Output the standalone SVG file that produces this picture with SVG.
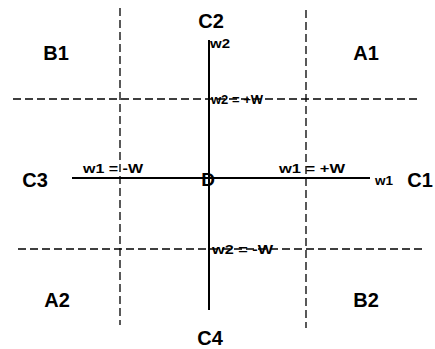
<svg xmlns="http://www.w3.org/2000/svg" width="435" height="349" viewBox="0 0 435 349">
<style>
.big{font-family:"Liberation Sans",Arial,sans-serif;font-weight:bold;font-size:20px;fill:#000;text-anchor:middle}
.sm{font-family:"Liberation Sans",Arial,sans-serif;font-weight:bold;font-size:13px;fill:#000}
.dash{stroke:#000;stroke-width:1.3;stroke-dasharray:8 4;fill:none}
.axis{stroke:#000;stroke-width:2;fill:none}
</style>
<rect width="435" height="349" fill="#fff"/>
<g id="connectors">
<line class="dash" x1="120" y1="8" x2="120" y2="325"/>
<line class="dash" x1="306" y1="10" x2="306" y2="328"/>
<line class="dash" x1="13" y1="99" x2="418" y2="99"/>
<line class="dash" x1="18" y1="249" x2="423" y2="249"/>
<line class="axis" x1="209" y1="40" x2="209" y2="310"/>
<line class="axis" x1="72" y1="178" x2="370" y2="178"/>
</g>
<g id="C2"><text class="big" x="211" y="28">C2</text></g>
<g id="B1"><text class="big" x="56" y="60">B1</text></g>
<g id="A1"><text class="big" x="366" y="60">A1</text></g>
<g id="C3"><text class="big" x="35" y="187">C3</text></g>
<g id="C1"><text class="big" x="420" y="187">C1</text></g>
<g id="A2"><text class="big" x="57" y="307">A2</text></g>
<g id="B2"><text class="big" x="366" y="307">B2</text></g>
<g id="C4"><text class="big" x="210" y="345">C4</text></g>
<g id="D"><text class="big" x="208" y="186" style="font-size:19px">D</text></g>
<g id="labels">
<text class="sm" x="210" y="48" textLength="20" lengthAdjust="spacingAndGlyphs">w2</text>
<text class="sm" x="211" y="104" textLength="52" lengthAdjust="spacingAndGlyphs">w2 = +W</text>
<text class="sm" x="83" y="173" textLength="60" lengthAdjust="spacingAndGlyphs">w1 = -W</text>
<text class="sm" x="279" y="173" textLength="66" lengthAdjust="spacingAndGlyphs">w1 = +W</text>
<text class="sm" x="375" y="185" textLength="18" lengthAdjust="spacingAndGlyphs">w1</text>
<text class="sm" x="212" y="254" textLength="61" lengthAdjust="spacingAndGlyphs">w2 = -W</text>
</g>
</svg>
